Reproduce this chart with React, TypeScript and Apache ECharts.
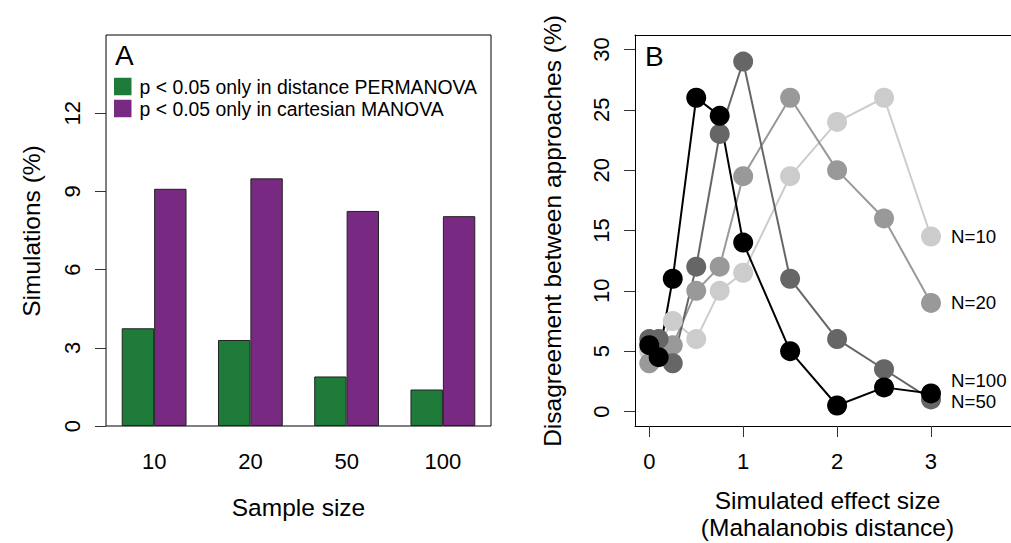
import React, { useEffect, useRef } from "react";
import * as echarts from "echarts";

// Panel A data
const sampleSizes = ["10", "20", "50", "100"];
const permanovaOnly = [3.75, 3.3, 1.9, 1.4];
const manovaOnly = [9.1, 9.5, 8.25, 8.05];
const yTicksA = [0, 3, 6, 9, 12];

// Panel B data
const effectSizes = [0, 0.1, 0.25, 0.5, 0.75, 1, 1.5, 2, 2.5, 3];
const disN10 = [5, 5.5, 7.5, 6, 10, 11.5, 19.5, 24, 26, 14.5];
const disN20 = [4, 5, 5.5, 10, 12, 19.5, 26, 20, 16, 9];
const disN50 = [6, 6, 4, 12, 23, 29, 11, 6, 3.5, 1];
const disN100 = [5.5, 4.5, 11, 26, 24.5, 14, 5, 0.5, 2, 1.5];
const xTicksB = [0, 1, 2, 3];
const yTicksB = [0, 5, 10, 15, 20, 25, 30];

const FONT = "Liberation Sans, Arial, Helvetica, sans-serif";

export default function App() {
  const ref = useRef<HTMLDivElement>(null);
  useEffect(() => {
    if (!ref.current) return;
    const chart = echarts.init(ref.current, null, { renderer: "svg" });

    const lineSeries = (name: string, data: number[], color: string, labelOffset: number[]) => ({
      name,
      type: "line",
      xAxisIndex: 1,
      yAxisIndex: 1,
      data: effectSizes.map((x, i) => [x, data[i]]),
      symbol: "circle",
      symbolSize: 20,
      itemStyle: { color },
      lineStyle: { color, width: 2 },
      endLabel: {
        show: true,
        formatter: name,
        color: "#000",
        fontSize: 18.7,
        fontFamily: FONT,
        distance: 20,
        offset: labelOffset,
      },
      emphasis: { disabled: true },
    });

    const axisTickStyle = { lineStyle: { color: "#333", width: 1 } };
    const boxLine = { show: true, onZero: false, lineStyle: { color: "#000", width: 1 } };

    chart.setOption({
      animation: false,
      textStyle: { fontFamily: FONT },
      grid: [
        { left: 106, top: 35, width: 385, height: 391, show: true, borderColor: "#000", borderWidth: 1 },
        { left: 635, top: 35, width: 376, height: 391, show: false },
      ],
      legend: {
        data: ["p < 0.05 only in distance PERMANOVA", "p < 0.05 only in cartesian MANOVA"],
        orient: "vertical",
        left: 114,
        top: 77,
        padding: 0,
        itemWidth: 17.5,
        itemHeight: 17.5,
        itemGap: 3,
        icon: "rect",
        itemStyle: { borderWidth: 0 },
        textStyle: { fontSize: 19.4, color: "#000", fontFamily: FONT, padding: [0, 0, 0, 3] },
        selectedMode: false,
      },
      xAxis: [
        {
          type: "category",
          gridIndex: 0,
          data: sampleSizes,
          axisLine: { show: false },
          axisTick: { show: false },
          axisLabel: { fontSize: 22, color: "#000", margin: 24, fontFamily: FONT },
        },
        {
          type: "value",
          gridIndex: 1,
          min: -0.152,
          max: 3.852,
          axisLine: boxLine,
          axisTick: { show: true, length: 11, customValues: xTicksB, ...axisTickStyle },
          axisLabel: { fontSize: 22, color: "#000", margin: 24, customValues: xTicksB, fontFamily: FONT },
          splitLine: { show: false },
        },
        {
          type: "value",
          gridIndex: 1,
          position: "top",
          min: -0.152,
          max: 3.852,
          axisLine: boxLine,
          axisTick: { show: false },
          axisLabel: { show: false },
          splitLine: { show: false },
        },
      ],
      yAxis: [
        {
          type: "value",
          gridIndex: 0,
          min: 0,
          max: 15,
          axisLine: { show: false },
          axisTick: { show: true, length: 11, customValues: yTicksA, ...axisTickStyle },
          axisLabel: { fontSize: 22, color: "#000", margin: 23, rotate: 90, customValues: yTicksA, fontFamily: FONT },
          splitLine: { show: false },
        },
        {
          type: "value",
          gridIndex: 1,
          min: -1.2,
          max: 31.2,
          axisLine: boxLine,
          axisTick: { show: true, length: 11, customValues: yTicksB, ...axisTickStyle },
          axisLabel: { fontSize: 22, color: "#000", margin: 23, rotate: 90, customValues: yTicksB, fontFamily: FONT },
          splitLine: { show: false },
        },
      ],
      series: [
        {
          name: "p < 0.05 only in distance PERMANOVA",
          type: "bar",
          xAxisIndex: 0,
          yAxisIndex: 0,
          data: permanovaOnly,
          barWidth: 32.4,
          barGap: "0%",
          itemStyle: { color: "#1E7B3A", borderColor: "#222", borderWidth: 1 },
          emphasis: { disabled: true },
        },
        {
          name: "p < 0.05 only in cartesian MANOVA",
          type: "bar",
          xAxisIndex: 0,
          yAxisIndex: 0,
          data: manovaOnly,
          barWidth: 32.4,
          barGap: "0%",
          itemStyle: { color: "#782A83", borderColor: "#222", borderWidth: 1 },
          emphasis: { disabled: true },
        },
        lineSeries("N=10", disN10, "#CCCCCC", [0, 0]),
        lineSeries("N=20", disN20, "#999999", [0, 0]),
        lineSeries("N=50", disN50, "#666666", [0, 2]),
        lineSeries("N=100", disN100, "#000000", [0, -13]),
      ],
      graphic: [
        { type: "text", x: 115, y: 55, style: { text: "A", font: `28px ${FONT}`, fill: "#000", textVerticalAlign: "middle" } },
        { type: "text", x: 645, y: 56, style: { text: "B", font: `28px ${FONT}`, fill: "#000", textVerticalAlign: "middle" } },
        {
          type: "text", x: 298.5, y: 507,
          style: { text: "Sample size", font: `24.5px ${FONT}`, fill: "#000", textAlign: "center", textVerticalAlign: "middle" },
        },
        {
          type: "text", x: 31, y: 231, rotation: Math.PI / 2,
          style: { text: "Simulations (%)", font: `24.5px ${FONT}`, fill: "#000", textAlign: "center", textVerticalAlign: "middle" },
        },
        {
          type: "text", x: 827.5, y: 500,
          style: { text: "Simulated effect size", font: `24.5px ${FONT}`, fill: "#000", textAlign: "center", textVerticalAlign: "middle" },
        },
        {
          type: "text", x: 827.5, y: 527,
          style: { text: "(Mahalanobis distance)", font: `24.5px ${FONT}`, fill: "#000", textAlign: "center", textVerticalAlign: "middle" },
        },
        {
          type: "text", x: 552, y: 231, rotation: Math.PI / 2,
          style: { text: "Disagreement between approaches (%)", font: `24.5px ${FONT}`, fill: "#000", textAlign: "center", textVerticalAlign: "middle" },
        },
      ],
    });
    return () => chart.dispose();
  }, []);
  return <div ref={ref} style={{ position: "absolute", left: 0, top: 0, width: 1011, height: 543, background: "#fff" }} />;
}
